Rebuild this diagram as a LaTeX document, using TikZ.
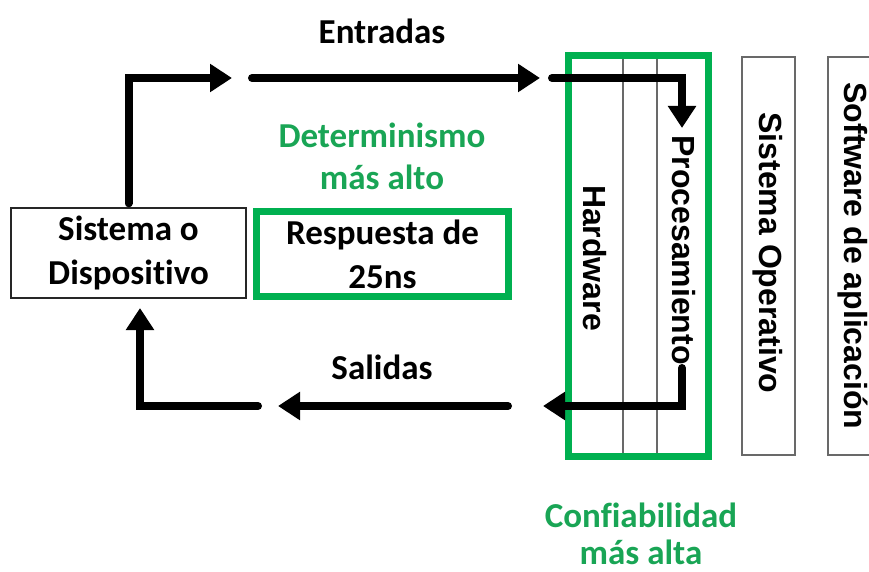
\documentclass[tikz,border=0pt]{standalone}
\usepackage{fontspec}
\setmainfont{Carlito}[Ligatures=NoCommon]
\newfontfamily\layerfont{Liberation Sans}
\usepackage{tikz}
\usetikzlibrary{arrows.meta,positioning}
\definecolor{rtgreen}{RGB}{0,176,80}
\definecolor{rtgreentext}{RGB}{25,165,85}
\definecolor{layergray}{RGB}{105,105,105}
\tikzset{
  flowLine/.style={line width=8pt, line cap=round, line join=miter},
  flowArrow/.style={flowLine, -{Triangle[length=22pt,width=27pt]}},
  label/.style={font=\bfseries\fontsize{35}{44}\selectfont, align=center, inner sep=0pt},
  greenlabel/.style={label, text=rtgreentext},
  devbox/.style={draw=black!85, line width=1.3pt, minimum width=235pt, minimum height=90pt, label},
  respbox/.style={draw=rtgreen, line width=7pt, minimum width=252pt, minimum height=85pt, label},
  layerbox/.style={draw=layergray, line width=1.5pt},
  layertext/.style={font=\layerfont\bfseries\fontsize{32}{36}\selectfont, rotate=-90, inner sep=0pt}
}
\begin{document}
\begin{tikzpicture}[x=1pt,y=-1pt]
  \useasboundingbox (0,0) rectangle (869,572);
  \clip (0,0) rectangle (869,572);
  % system and response boxes
  \node[devbox] (sys) at (128.5,253) {\raisebox{-3pt}{\parbox{230pt}{\centering Sistema o\\Dispositivo}}};
  \node[respbox] (resp) at (382.5,254) {Respuesta de\\25ns};
  \node[label] (inputs) at (382,31) {Entradas};
  \node[label] (outputs) at (382,367) {Salidas};
  \node[greenlabel, font=\bfseries\fontsize{35}{42}\selectfont] (determ) at (382,156) {Determinismo\\más alto};
  \node[greenlabel, font=\bfseries\fontsize{35}{37}\selectfont] (reliab) at (641,534) {Confiabilidad\\más alta};
  % layers
  \draw[layergray, line width=1.5pt] (623,55) -- (623,457);
  \draw[layergray, line width=1.5pt] (657,55) -- (657,457);
  \draw[rtgreen, line width=7pt] (568.5,55.5) rectangle (708.5,456.5);
  \draw[layerbox] (742,57) rectangle (795,455);
  \draw[layerbox] (828,57) rectangle (900,455);
  \node[layertext] (hw) at (595,258) {Hardware};
  \node[layertext] (proc) at (684,250) {Procesamiento};
  \node[layertext] (os) at (768,253) {Sistema Operativo};
  \node[layertext] (app) at (853,256) {Software de aplicación};
  % input path
  \coordinate (inTipA) at (232,78);
  \coordinate (inStartB) at (252,78);
  \coordinate (inTipB) at (540,78);
  \coordinate (inStartC) at (552,78);
  \coordinate (inTipC) at (682,128);
  \draw[flowArrow] ([yshift=4pt]sys.north) |- (inTipA);
  \draw[flowArrow] (inStartB) -- (inTipB);
  \draw[flowArrow] (inStartC) -| (inTipC);
  % output path
  \coordinate (outStartA) at (682,368);
  \coordinate (outTipA) at (543,406);
  \coordinate (outStartB) at (508,406);
  \coordinate (outTipB) at (278,406);
  \coordinate (outStartC) at (258,406);
  \coordinate (outTipC) at (140,308);
  \draw[flowArrow] (outStartA) |- (outTipA);
  \draw[flowArrow] (outStartB) -- (outTipB);
  \draw[flowArrow] (outStartC) -| (outTipC);
\end{tikzpicture}
\end{document}
